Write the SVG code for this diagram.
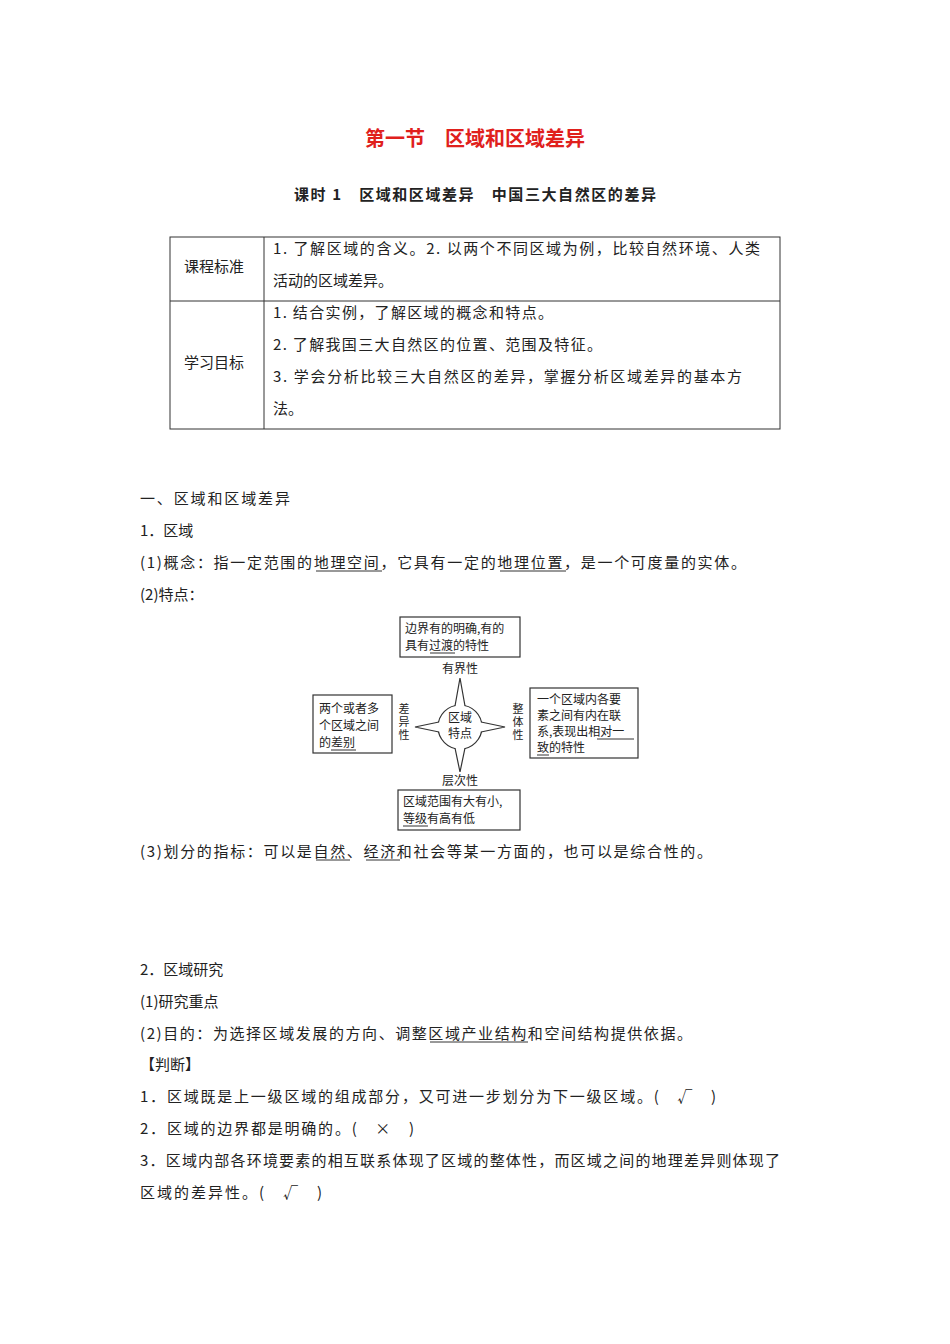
<svg xmlns="http://www.w3.org/2000/svg" width="950" height="1344" viewBox="0 0 950 1344">
<style>
text{font-family:"Noto Sans CJK SC","Liberation Serif",serif;fill:#222}
.b{font-size:15px}
.s{font-size:12px}
.v{font-size:11px;writing-mode:vertical-rl;letter-spacing:2px}
.box{fill:#fff;stroke:#333;stroke-width:1.2}
.u{stroke:#333;stroke-width:1}
</style>
<rect width="950" height="1344" fill="#fff"/>
<text x="475" y="146" text-anchor="middle" style="font-size:20px;font-weight:bold;fill:#e0201c">第一节　区域和区域差异</text>
<text x="294" y="200" textLength="362" style="font-size:15px;font-weight:bold">课时 1　区域和区域差异　中国三大自然区的差异</text>
<g id="table" fill="none" stroke="#333" stroke-width="1">
<rect x="170" y="237" width="610" height="192"/>
<line x1="264" y1="237" x2="264" y2="429"/>
<line x1="170" y1="301" x2="780" y2="301"/>
</g>
<text class="b" x="184" y="272">课程标准</text>
<text class="b" x="184" y="368">学习目标</text>
<text class="b" x="273" y="254" textLength="487">1. 了解区域的含义。2. 以两个不同区域为例，比较自然环境、人类</text>
<text class="b" x="273" y="286">活动的区域差异。</text>
<text class="b" x="273" y="318" textLength="280">1. 结合实例，了解区域的概念和特点。</text>
<text class="b" x="273" y="350" textLength="329">2. 了解我国三大自然区的位置、范围及特征。</text>
<text class="b" x="273" y="382" textLength="469">3. 学会分析比较三大自然区的差异，掌握分析区域差异的基本方</text>
<text class="b" x="273" y="414">法。</text>
<text class="b" x="140" y="504" textLength="150">一、区域和区域差异</text>
<text class="b" x="140" y="536">1．区域</text>
<text class="b" x="140" y="568" textLength="606">(1)概念：指一定范围的地理空间，它具有一定的地理位置，是一个可度量的实体。</text>
<line class="u" x1="316" y1="571" x2="382" y2="571"/>
<line class="u" x1="500" y1="571" x2="566" y2="571"/>
<text class="b" x="140" y="600">(2)特点：</text>
<g id="center">
<circle cx="460" cy="727" r="22" class="box"/>
<text class="s" x="460" y="722" text-anchor="middle">区域</text>
<text class="s" x="460" y="738" text-anchor="middle">特点</text>
</g>
<g id="connectors" fill="#fff" stroke="#333" stroke-width="1.2">
<path d="M455,706 L460,678 L465,706"/>
<path d="M455,748 L460,772 L465,748"/>
<path d="M439,722 L415,727 L439,732"/>
<path d="M481,722 L505,727 L481,732"/>
</g>
<g id="top"><rect x="400" y="617" width="120" height="40" class="box"/>
<text class="s" x="405" y="633">边界有的明确,有的</text><text class="s" x="405" y="650">具有过渡的特性</text>
<line class="u" x1="430" y1="653" x2="455" y2="653"/>
<text class="s" x="460" y="673" text-anchor="middle">有界性</text></g>
<g id="bottom"><rect x="398" y="790" width="122" height="40" class="box"/>
<text class="s" x="403" y="806">区域范围有大有小,</text><text class="s" x="403" y="823">等级有高有低</text>
<line class="u" x1="403" y1="826" x2="428" y2="826"/>
<text class="s" x="460" y="785" text-anchor="middle">层次性</text></g>
<g id="left"><rect x="313" y="695" width="79" height="58" class="box"/>
<text class="s" x="319" y="713">两个或者多</text><text class="s" x="319" y="730">个区域之间</text><text class="s" x="319" y="747">的差别</text>
<line class="u" x1="331" y1="750" x2="356" y2="750"/>
<text class="v" x="404" y="703">差异性</text></g>
<g id="right"><rect x="530" y="688" width="108" height="70" class="box"/>
<text class="s" x="537" y="704">一个区域内各要</text><text class="s" x="537" y="720">素之间有内在联</text><text class="s" x="537" y="736">系,表现出相对一</text><text class="s" x="537" y="752">致的特性</text>
<line class="u" x1="597" y1="739" x2="634" y2="739"/><line class="u" x1="537" y1="755" x2="549" y2="755"/>
<text class="v" x="518" y="703">整体性</text></g>
<text class="b" x="140" y="857" textLength="572">(3)划分的指标：可以是自然、经济和社会等某一方面的，也可以是综合性的。</text>
<line class="u" x1="316" y1="860" x2="350" y2="860"/>
<line class="u" x1="366" y1="860" x2="400" y2="860"/>
<text class="b" x="140" y="975">2．区域研究</text>
<text class="b" x="140" y="1007">(1)研究重点</text>
<text class="b" x="140" y="1039" textLength="552">(2)目的：为选择区域发展的方向、调整区域产业结构和空间结构提供依据。</text>
<line class="u" x1="430" y1="1042" x2="528" y2="1042"/>
<text class="b" x="140" y="1070">【判断】</text>
<text class="b" x="140" y="1102" textLength="576">1．区域既是上一级区域的组成部分，又可进一步划分为下一级区域。(　√　)</text>
<text class="b" x="140" y="1134" textLength="274">2．区域的边界都是明确的。(　×　)</text>
<text class="b" x="140" y="1166" textLength="640">3．区域内部各环境要素的相互联系体现了区域的整体性，而区域之间的地理差异则体现了</text>
<text class="b" x="140" y="1198" textLength="182">区域的差异性。(　√　)</text>
</svg>
